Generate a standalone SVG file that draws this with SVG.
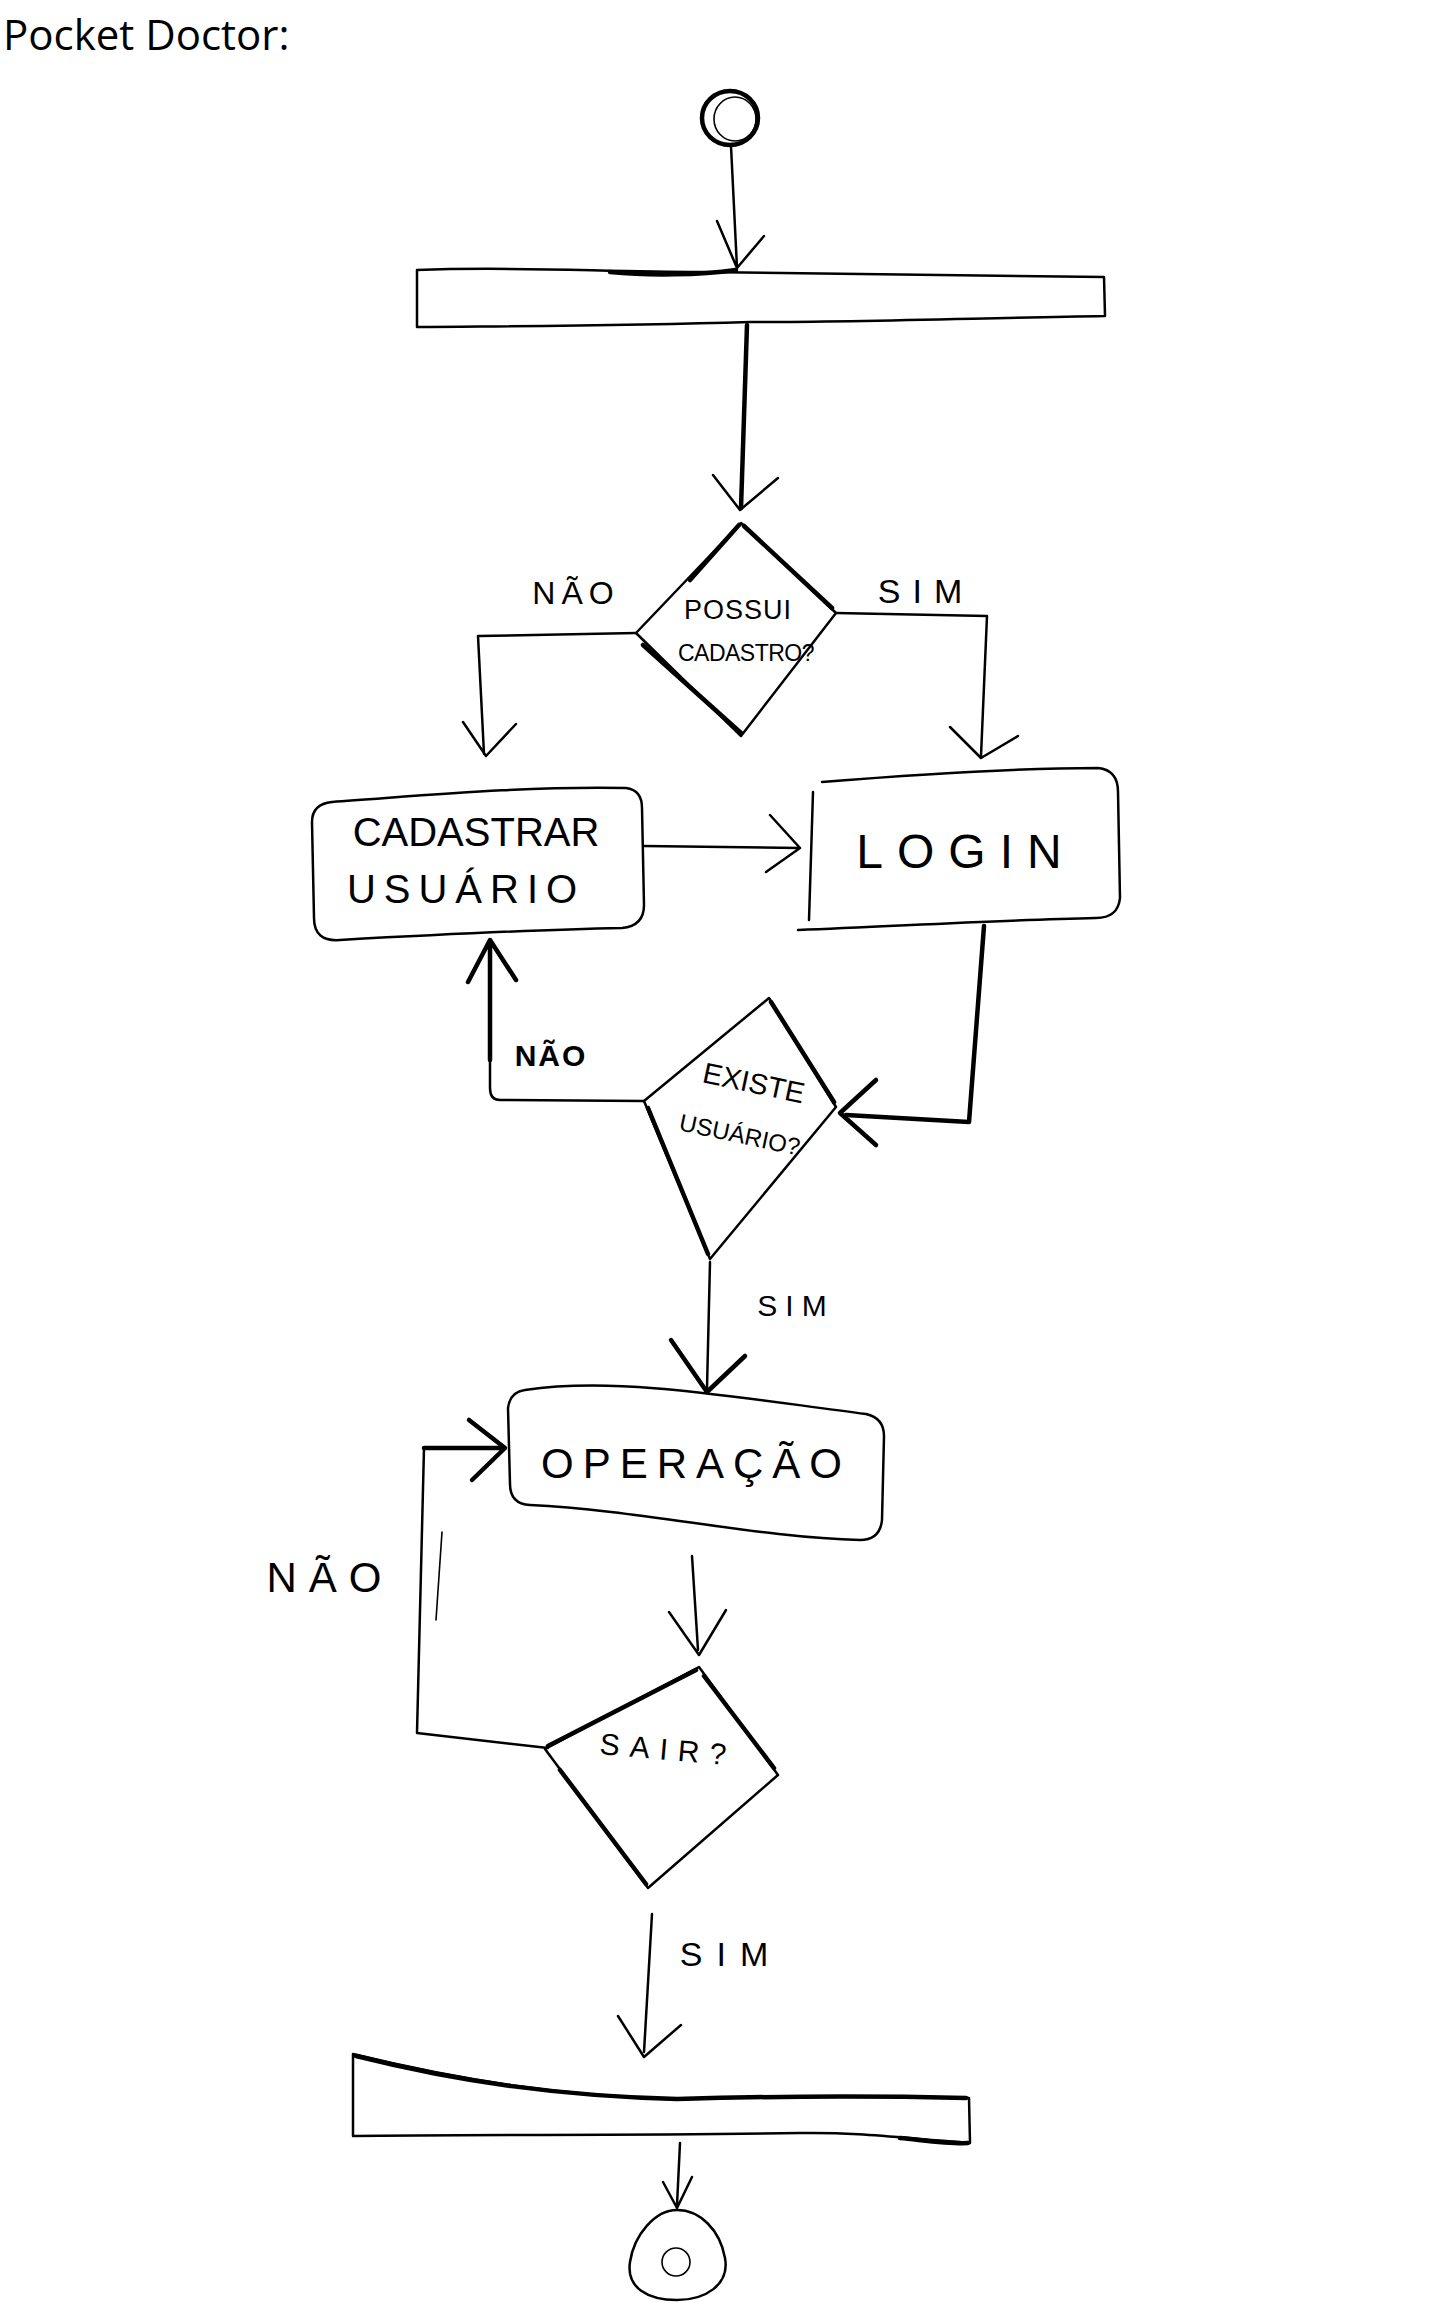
<svg xmlns="http://www.w3.org/2000/svg" width="1449" height="2310" viewBox="0 0 1449 2310">
<style>
.ln{fill:none;stroke:#000;stroke-width:2.5;stroke-linecap:round;stroke-linejoin:round}
.tk{fill:none;stroke:#000;stroke-width:4.5;stroke-linecap:round;stroke-linejoin:round}
.tn{fill:none;stroke:#000;stroke-width:1.6;stroke-linecap:round;stroke-linejoin:round}
.hd{font-family:"Liberation Sans",Arial,sans-serif;fill:#000;text-anchor:middle}
.ttl{font-family:"Open Sans","Liberation Sans",Arial,sans-serif;fill:#000;font-size:42px}
</style>
<rect width="1449" height="2310" fill="#fff"/>
<text class="ttl" x="3" y="50">Pocket Doctor:</text>

<g id="start">
<ellipse class="tk" cx="730" cy="118" rx="28" ry="27"/>
<ellipse class="tn" cx="735" cy="119" rx="21" ry="22"/>
</g>

<g id="fork-top">
<path class="ln" d="M417 270 C520 266 600 272 700 272 C820 274 960 276 1104 277 L1105 316 C980 318 860 322 750 322 C620 326 520 326 417 327 Z"/>
<path class="tk" d="M610 272 C650 276 700 275 736 270"/>
</g>

<g id="possui">
<path class="ln" d="M741 523 L836 613 L741 736 L636 633 Z"/>
<path class="tk" d="M744 526 L832 608 M643 645 L741 733 M739 525 L690 580"/>
<text class="hd" x="738" y="619" font-size="27" letter-spacing="1">POSSUI</text>
<text class="hd" x="746" y="661" font-size="23" letter-spacing="-0.5">CADASTRO?</text>
</g>

<g id="cadastrar">
<path class="ln" d="M332 802 C420 796 520 786 626 788 Q642 790 642 808 L644 905 Q644 926 622 928 C520 930 430 935 340 940 Q314 942 314 918 L312 822 Q312 804 332 802 Z"/>
<text class="hd" x="476" y="846" font-size="40" letter-spacing="0">CADASTRAR</text>
<text class="hd" x="466" y="903" font-size="40" letter-spacing="8">USUÁRIO</text>
</g>

<g id="login">
<path class="ln" d="M822 782 C920 774 1010 768 1098 768 Q1118 770 1118 792 L1120 898 Q1118 918 1096 918 C1000 920 900 926 798 930"/>
<path class="ln" d="M813 792 L809 920"/>
<text class="hd" x="966" y="868" font-size="48" letter-spacing="14">LOGIN</text>
</g>

<g id="existe">
<path class="ln" d="M769 998 L836 1107 L710 1259 L644 1101 Z"/>
<path class="tk" d="M771 1002 L834 1102 M648 1108 L708 1254"/>
<text class="hd" x="754" y="1093" font-size="29" transform="rotate(12 754 1082)">EXISTE</text>
<text class="hd" x="740" y="1143" font-size="24" transform="rotate(12 740 1134)">USUÁRIO?</text>
</g>

<g id="operacao">
<path class="ln" d="M525 1390 C620 1376 740 1398 866 1414 Q884 1418 884 1436 L882 1520 Q880 1540 860 1540 C760 1538 640 1510 530 1505 Q510 1504 510 1484 L508 1408 Q510 1392 525 1390 Z"/>
<text class="hd" x="696" y="1478" font-size="42" letter-spacing="9">OPERAÇÃO</text>
</g>

<g id="sair">
<path class="ln" d="M699 1667 L778 1775 L648 1888 L545 1749 Z"/>
<path class="tk" d="M696 1670 L548 1746 M704 1676 L774 1768 M560 1770 L646 1884"/>
<text class="hd" x="668" y="1760" font-size="30" letter-spacing="10" transform="rotate(5 668 1750)">SAIR?</text>
</g>

<g id="join-bottom">
<path class="ln" d="M353 2054 C460 2080 560 2096 677 2099 C780 2096 880 2096 969 2098 L970 2143 C900 2138 860 2132 800 2133 C640 2136 480 2134 353 2136 Z"/>
<path class="tk" d="M356 2056 C460 2082 560 2096 677 2099 C780 2096 880 2096 966 2098 M900 2138 C930 2141 950 2144 968 2143"/>
</g>

<g id="end">
<path class="ln" d="M677 2210 C700 2210 720 2230 725 2258 C730 2285 705 2300 677 2300 C648 2300 626 2288 630 2262 C634 2235 655 2210 677 2210 Z"/>
<circle class="tn" cx="676" cy="2262" r="14"/>
</g>

<g id="connectors">
<path class="ln" d="M731 146 L737 268 M717 221 L737 268 L764 236"/>
<path class="tk" d="M747 325 L741 508"/>
<path class="ln" d="M713 475 L740 510 L778 478"/>
<path class="ln" d="M636 633 L478 636 L484 754 M463 722 L486 756 L516 724"/>
<path class="ln" d="M836 613 L987 616 L981 756 M950 727 L981 758 L1018 736"/>
<path class="ln" d="M644 846 L800 848 M770 815 L800 848 L766 872"/>
<path class="tk" d="M984 926 L969 1122 L846 1115"/>
<path class="tk" d="M876 1080 L840 1113 L876 1145"/>
<path class="ln" d="M644 1101 L500 1100 Q490 1100 490 1088 L490 944"/>
<path class="tk" d="M490 1060 L490 944 M468 982 L490 940 L516 980"/>
<path class="ln" d="M710 1262 L707 1388"/>
<path class="tk" d="M671 1340 L707 1392 L745 1356"/>
<path class="ln" d="M692 1556 L698 1650 M669 1612 L699 1655 L726 1610"/>
<path class="ln" d="M548 1748 L417 1733 L424 1448"/>
<path class="tk" d="M424 1448 L501 1448 M469 1420 L505 1448 L472 1480"/>
<path class="tn" d="M442 1532 L436 1620"/>
<path class="ln" d="M652 1914 L644 2052 M618 2016 L644 2057 L681 2025"/>
<path class="ln" d="M680 2143 L677 2205 M663 2182 L677 2208 L692 2177"/>
</g>

<g id="labels">
<text class="hd" x="576" y="604" font-size="32" letter-spacing="6">NÃO</text>
<text class="hd" x="926" y="603" font-size="34" letter-spacing="12">SIM</text>
<text class="hd" x="551" y="1066" font-size="30" font-weight="bold" letter-spacing="2">NÃO</text>
<text class="hd" x="796" y="1316" font-size="30" letter-spacing="8">SIM</text>
<text class="hd" x="330" y="1592" font-size="42" letter-spacing="12">NÃO</text>
<text class="hd" x="731" y="1966" font-size="34" letter-spacing="14">SIM</text>
</g>
</svg>
